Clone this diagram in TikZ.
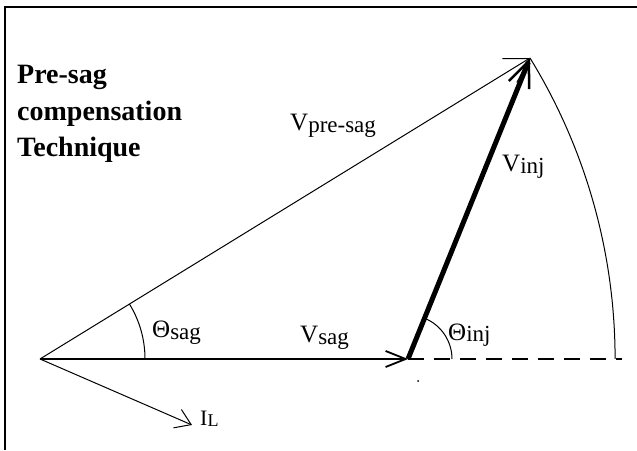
\documentclass[tikz,border=0pt]{standalone}
\usepackage{fontspec}
\setmainfont{Liberation Serif}
\usetikzlibrary{arrows.meta, calc}
\newcommand{\lbl}[2]{{\fontsize{25}{30}\selectfont #1}\raisebox{-2pt}{\fontsize{23}{27}\selectfont #2}}

\begin{document}
\begin{tikzpicture}[x=1pt, y=1pt,
	vec/.style={line width=1pt},
	lab/.style={anchor=base west, inner sep=0pt}]
	\useasboundingbox (0,0) rectangle (637,450);
	\draw[line width=2pt] (5,0) -- (5,443) -- (637,443);

	\coordinate (O) at (40,91);
	\coordinate (S) at (408,91);
	\coordinate (P) at (530,392);
	\coordinate (I) at (192,25);
	\coordinate (D) at (622,91);

	% reference line and swing of the pre-sag phasor
	\draw[line width=1.2pt, dash pattern=on 16pt off 10pt] (S) -- (D);
	\draw[line width=1pt] let \p1=($(P)-(O)$), \n1={atan2(\y1,\x1)}, \n2={veclen(\x1,\y1)} in
		(P) arc[start angle=\n1, end angle=0, radius=\n2];

	% angles
	\draw[line width=1pt] let \p1=($(P)-(O)$), \n1={atan2(\y1,\x1)} in
		($(O)+(105,0)$) arc[start angle=0, end angle=\n1, radius=105];
	\draw[line width=1pt] let \p1=($(P)-(S)$), \n1={atan2(\y1,\x1)} in
		($(S)+(44,0)$) arc[start angle=0, end angle=\n1, radius=44];

	% phasors
	\draw[vec, line width=1.8pt, -{Straight Barb[length=20pt, width=16pt]}] (O) -- (S);
	\draw[vec, -{Straight Barb[length=23pt, width=28pt]}] (O) -- (P);
	\draw[vec, line width=5pt, -{Straight Barb[length=26pt, width=22pt, line width=2.5pt]}] (S) -- (P);
	\draw[vec, -{Straight Barb[length=15pt, width=20pt]}] (O) -- (I);
	\fill (418,69) circle[radius=1pt];

	\node[lab] (vsag) at (300,107) {\lbl{V}{sag}};
	\node[lab] (tsag) at (152,112) {\lbl{Θ}{sag}};
	\node[lab] (tinj) at (448,110) {\lbl{Θ}{inj}};
	\node[lab] (vinj) at (502,278) {\lbl{V}{inj}};
	\node[lab] (vpre) at (290,319) {\lbl{V}{pre-sag}};
	\node[lab] (il) at (200,25) {{\fontsize{22}{26}\selectfont I}\raisebox{-1pt}{\fontsize{18}{22}\selectfont L}};

	\node[anchor=north west, inner sep=0pt, align=left, font={\bfseries\fontsize{28}{36.5}\selectfont}] (title) at (17,385) {Pre-sag\\compensation\\Technique};
\end{tikzpicture}
\end{document}
